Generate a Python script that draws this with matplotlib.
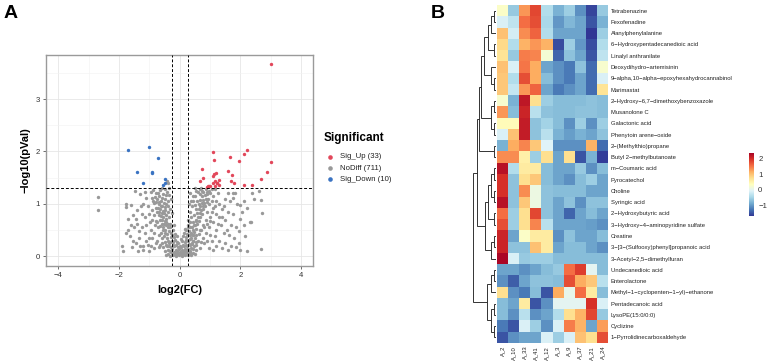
import numpy as np
import matplotlib.pyplot as plt

plt.rcParams["font.family"] = ["Liberation Sans", "DejaVu Sans"]

# ── Panel A: volcano data ────────────────────────────────────────────
up_x = [3.00, 2.22, 2.11, 1.11, 1.64, 1.12, 1.96, 3.02, 0.74, 1.58, 2.86,
        1.12, 1.19, 1.08, 1.72, 0.76, 2.67, 1.29, 0.67, 1.15, 1.69, 1.79,
        1.08, 1.22, 2.11, 2.37, 1.28, 0.96, 0.89, 1.17, 1.00, 1.24, 0.93]
up_y = [3.66, 2.03, 1.95, 1.99, 1.90, 1.84, 1.81, 1.80, 1.66, 1.63, 1.60,
        1.57, 1.58, 1.54, 1.56, 1.50, 1.48, 1.46, 1.44, 1.43, 1.43, 1.40,
        1.40, 1.40, 1.36, 1.36, 1.36, 1.35, 1.33, 1.35, 1.34, 1.39, 1.34]

down_x = [-1.71, -1.03, -0.73, -1.41, -0.93, -0.90, -1.22, -0.50, -0.48, -0.57]
down_y = [2.03, 2.09, 1.88, 1.61, 1.59, 1.60, 1.40, 1.47, 1.39, 1.36]

nodiff_core = [
    (-0.45, 0.02), (-0.38, 0.05), (-0.32, 0.01), (-0.27, 0.06), (-0.22, 0.02),
    (-0.17, 0.05), (-0.12, 0.01), (-0.07, 0.04), (-0.02, 0.02), (0.03, 0.05),
    (0.08, 0.01), (0.13, 0.04), (0.18, 0.02), (0.23, 0.06), (0.28, 0.03),
    (0.33, 0.05), (0.38, 0.02), (0.43, 0.07), (0.50, 0.04),
    (-0.40, 0.12), (-0.33, 0.10), (-0.26, 0.14), (-0.20, 0.09), (-0.14, 0.12),
    (-0.08, 0.10), (-0.03, 0.14), (0.02, 0.09), (0.07, 0.12), (0.12, 0.10),
    (0.17, 0.14), (0.22, 0.11), (0.27, 0.13), (0.32, 0.10), (0.37, 0.15),
    (0.44, 0.13), (-0.36, 0.20), (-0.30, 0.18), (-0.24, 0.22), (-0.18, 0.19),
    (-0.12, 0.21), (-0.06, 0.18), (0.00, 0.20), (0.05, 0.17), (0.10, 0.21),
    (0.15, 0.19), (0.20, 0.22), (0.25, 0.20), (0.30, 0.23), (0.35, 0.21),
    (0.40, 0.24), (-0.33, 0.28), (-0.27, 0.30), (-0.21, 0.27), (-0.15, 0.31),
    (-0.08, 0.28), (0.08, 0.30), (0.16, 0.28), (0.22, 0.31), (0.28, 0.29),
    (0.34, 0.32), (0.42, 0.30), (-0.30, 0.36), (-0.25, 0.40), (-0.18, 0.36),
    (-0.10, 0.38), (0.10, 0.38), (0.20, 0.36), (0.25, 0.42), (0.32, 0.40),
    (0.38, 0.42), (-0.28, 0.45), (-0.22, 0.50), (-0.32, 0.62), (-0.27, 0.82),
    (0.22, 0.50), (0.30, 0.48), (0.26, 0.60), (0.33, 0.65), (-0.42, 1.44),
    (-0.38, 1.40), (-0.48, 0.10), (-0.42, 0.20), (0.47, 0.20), (0.52, 0.12),
    (0.55, 0.28), (-0.05, 0.26), (0.04, 0.33), (-0.15, 0.42), (0.14, 0.44),
    (0.18, 0.52), (-0.20, 0.60), (0.28, 0.55), (0.06, 0.07), (-0.10, 0.07),
    (0.15, 0.08), (0.35, 0.08), (-0.30, 0.09), (-0.37, 0.26), (0.45, 0.40),
]
nodiff_left = [
    (-0.42, 0.42), (-0.48, 0.50), (-0.36, 0.48), (-0.55, 0.55), (-0.45, 0.60),
    (-0.60, 0.62), (-0.50, 0.68), (-0.38, 0.62), (-0.65, 0.70), (-0.55, 0.75),
    (-0.70, 0.78), (-0.45, 0.78), (-0.60, 0.82), (-0.75, 0.85), (-0.50, 0.88),
    (-0.65, 0.90), (-0.80, 0.92), (-0.58, 0.96), (-0.70, 1.00), (-0.45, 1.00),
    (-0.85, 1.02), (-0.62, 1.06), (-0.75, 1.10), (-0.50, 1.10), (-0.90, 1.12),
    (-0.68, 1.15), (-0.55, 1.18), (-0.80, 1.20), (-0.42, 1.22), (-0.95, 1.22),
    (-0.65, 1.26), (-0.50, 1.28), (-0.35, 1.30), (-0.72, 0.55), (-0.82, 0.60),
    (-0.90, 0.70), (-0.35, 0.75), (-0.32, 0.90), (-0.40, 0.95), (-0.30, 1.10),
    (-0.33, 0.55), (-0.62, 0.45), (-0.52, 0.38), (-0.70, 0.40), (-0.85, 0.45),
    (-0.95, 0.50), (-1.00, 0.80), (-1.05, 0.95), (-0.98, 0.65), (-0.78, 0.68),
    (-0.40, 0.55), (-0.47, 0.66), (-0.53, 0.62), (-0.58, 0.70), (-0.44, 0.72),
    (-0.52, 0.82), (-0.62, 0.76), (-0.67, 0.85), (-0.57, 0.86), (-0.48, 0.94),
    (-0.73, 0.93), (-0.63, 0.96), (-0.53, 1.02), (-0.78, 1.04), (-0.68, 1.04),
    (-0.58, 1.12), (-0.83, 1.14), (-0.72, 1.20), (-0.60, 1.30), (-0.88, 1.27),
    (-0.46, 1.16), (-0.38, 1.06), (-0.36, 1.16), (-0.40, 0.85), (-0.43, 0.34),
    (-0.50, 0.45), (-0.57, 0.50), (-0.66, 0.58), (-0.75, 0.65), (-0.85, 0.78),
    (-0.92, 0.88), (-0.60, 0.35), (-0.38, 0.30), (-0.48, 0.28), (-0.58, 0.26),
    (-0.70, 0.18), (-0.80, 0.25), (-0.90, 0.35), (-0.88, 1.05),
    (-1.86, 0.11), (-1.70, 0.50), (-1.78, 0.45), (-1.65, 0.38), (-1.55, 0.30),
    (-1.45, 0.25), (-1.30, 0.20), (-1.20, 0.12), (-1.10, 0.30), (-1.60, 0.60),
    (-1.50, 0.55), (-1.40, 0.62), (-1.35, 0.48), (-1.25, 0.55), (-1.15, 0.45),
    (-1.05, 0.22), (-1.77, 1.00), (-1.78, 0.94), (-1.62, 0.98), (-1.49, 1.25),
    (-1.14, 1.23), (-1.30, 1.18), (-1.20, 1.00), (-1.10, 1.12), (-1.40, 0.88),
    (-1.25, 0.80), (-1.55, 0.78), (-1.70, 0.72), (-1.35, 0.35), (-1.45, 0.72),
    (-1.00, 0.35), (-1.12, 0.60), (-1.28, 0.95), (-0.95, 0.20), (-0.85, 0.15),
    (-0.75, 0.30), (-0.65, 0.22), (-0.55, 0.18), (-0.45, 0.22), (-1.90, 0.20),
    (-1.15, 0.75), (-1.20, 0.20), (-1.38, 0.10), (-1.58, 0.18), (-1.00, 0.10),
    (-2.70, 1.14), (-2.68, 0.89),
]
nodiff_right = [
    (0.30, 0.40), (0.38, 0.45), (0.45, 0.50), (0.35, 0.55), (0.50, 0.60),
    (0.42, 0.65), (0.55, 0.70), (0.60, 0.75), (0.48, 0.78), (0.65, 0.82),
    (0.70, 0.88), (0.55, 0.90), (0.75, 0.95), (0.62, 1.00), (0.80, 1.02),
    (0.68, 1.08), (0.85, 1.10), (0.72, 1.15), (0.90, 1.18), (0.78, 1.22),
    (0.95, 1.25), (0.85, 1.28), (0.60, 1.22), (0.50, 1.15), (0.45, 1.05),
    (0.40, 0.95), (0.32, 0.85), (0.28, 0.70), (0.30, 1.00), (0.35, 1.20),
    (0.65, 1.28), (1.00, 1.20), (1.10, 1.15), (1.05, 1.05), (0.95, 1.00),
    (1.15, 0.95), (0.90, 0.85), (1.20, 0.80), (1.00, 0.75), (0.85, 0.70),
    (1.10, 0.65), (0.75, 0.60), (0.95, 0.55), (0.65, 0.50), (0.85, 0.45),
    (0.55, 0.40), (0.75, 0.35), (0.45, 0.30), (1.00, 0.40), (1.20, 0.50),
    (1.30, 1.00), (1.25, 1.20), (1.15, 1.28), (0.70, 1.30), (0.50, 1.30),
    (1.30, 0.75), (1.40, 0.90), (1.35, 0.60), (0.60, 0.30), (0.40, 0.25),
    (0.80, 0.25), (1.05, 0.30),
    (0.36, 0.35), (0.42, 0.40), (0.48, 0.46), (0.52, 0.52), (0.40, 0.55),
    (0.46, 0.60), (0.58, 0.62), (0.52, 0.68), (0.62, 0.68), (0.58, 0.82),
    (0.66, 0.75), (0.72, 0.80), (0.62, 0.90), (0.68, 0.95), (0.78, 0.90),
    (0.72, 1.02), (0.82, 0.96), (0.58, 1.06), (0.76, 1.08), (0.88, 1.04),
    (0.82, 1.16), (0.92, 1.10), (0.66, 1.18), (0.74, 1.24), (0.88, 1.22),
    (1.05, 1.28), (0.55, 1.24), (0.42, 1.15), (0.38, 0.75), (0.36, 1.05),
    (0.50, 0.35), (0.62, 0.42), (0.70, 0.50), (0.80, 0.55), (0.90, 0.62),
    (0.98, 0.68), (1.05, 0.85), (1.10, 0.92), (1.20, 1.05), (0.70, 0.28),
    (0.90, 0.30), (1.15, 0.38), (0.55, 0.22), (0.65, 0.15), (0.95, 0.15),
    (1.25, 0.62), (0.50, 0.98),
    (1.58, 1.21), (1.75, 1.20), (1.82, 1.20),
    (2.37, 1.20), (2.60, 1.25), (1.50, 1.10), (1.65, 1.05), (1.90, 1.00),
    (2.00, 0.98), (1.45, 0.95), (1.60, 0.85), (1.75, 0.80), (2.00, 0.72),
    (1.50, 0.70), (1.40, 0.75), (1.70, 0.60), (1.85, 0.55), (1.55, 0.50),
    (1.45, 0.45), (1.62, 0.40), (1.80, 0.35), (1.95, 0.48), (2.10, 0.60),
    (2.30, 0.66), (2.35, 0.66), (2.20, 0.92), (2.70, 0.82), (2.68, 1.08),
    (1.30, 0.30), (1.50, 0.25), (1.70, 0.20), (1.85, 0.18), (2.00, 0.12),
    (2.22, 0.11), (2.68, 0.14), (1.95, 0.25), (2.15, 0.38), (1.40, 0.15),
    (1.20, 0.20), (1.60, 0.12), (1.10, 0.12), (2.05, 0.85), (1.75, 1.12),
    (2.45, 1.10), (2.10, 1.05),
]

fc_cut = 0.263      # log2(1.2)
p_cut = 1.301       # -log10(0.05)
legend_labels = ["Sig_Up (33)", "NoDiff (711)", "Sig_Down (10)"]

# ── Panel B: heatmap data ────────────────────────────────────────────
metabolites = [
    "Tetrabenazine", "Fexofenadine", "Alanylphenylalanine",
    "6−Hydroxypentadecanedioic acid", "Linalyl anthranilate",
    "Deoxydihydro−artemisinin", "9−alpha,10−alpha−epoxyhexahydrocannabinol",
    "Marimastat", "2−Hydroxy−6,7−dimethoxybenzoxazole", "Musanolone C",
    "Galactonic acid", "Phenytoin arene−oxide", "2−(Methylthio)propane",
    "Butyl 2−methylbutanoate", "m−Coumaric acid", "Pyrocatechol", "Choline",
    "Syringic acid", "2−Hydroxybutyric acid",
    "3−Hydroxy−4−aminopyridine sulfate", "Creatine",
    "3−[3−(Sulfooxy)phenyl]propanoic acid", "3−Acetyl−2,5−dimethylfuran",
    "Undecanedioic acid", "Enterolactone",
    "Methyl−1−cyclopenten−1−yl)−ethanone", "Pentadecanoic acid",
    "LysoPE(15:0/0:0)", "Cyclizine", "1−Pyrrolidinecarboxaldehyde",
]
samples = ["A_2", "A_10", "A_33", "A_41", "A_12", "A_3", "A_9", "A_37",
           "A_21", "A_24"]

zscores = [
    [0.30, -0.60, 1.30, 1.80, -0.40, -0.80, -0.55, -1.05, -1.55, -0.60],
    [-0.10, -0.30, 1.55, 1.75, -0.45, -1.00, -0.75, -0.90, -1.45, -0.80],
    [1.00, -0.15, 1.35, 1.60, -0.40, -0.90, -0.90, -0.90, -1.65, -0.55],
    [0.80, -0.40, 1.10, 1.30, 1.10, -1.50, -0.55, -1.00, -1.50, -0.40],
    [0.70, -0.60, 1.45, 1.40, 0.20, -1.35, -0.65, -0.90, -1.45, -0.30],
    [1.00, -0.10, 1.50, 1.15, -0.90, -1.05, -1.20, -0.65, -1.30, 0.25],
    [0.95, -0.40, 1.75, 1.15, -0.70, -1.05, -1.20, -0.90, -1.30, -0.10],
    [0.95, -0.25, 1.30, 1.60, -0.90, -1.20, -1.05, -0.90, -1.30, 0.70],
    [0.25, -0.80, 2.15, 0.75, -0.55, -0.70, -0.70, -0.70, -0.65, -0.70],
    [1.30, -0.70, 2.05, -0.35, -0.65, -0.70, -0.70, -0.65, -0.65, -0.70],
    [0.40, 0.40, 2.10, -0.65, -0.50, -0.70, -1.05, -0.55, -1.05, -0.55],
    [-0.10, 1.00, 2.10, -0.65, -0.35, -0.80, -0.95, -0.80, -0.90, -0.65],
    [-0.80, 1.15, 1.40, 0.95, -0.05, -1.05, -1.05, -1.05, 1.10, -1.30],
    [1.35, 1.35, 0.55, -0.55, 0.75, -0.90, 0.75, -1.45, -0.80, -1.60],
    [2.20, -0.40, 0.60, 0.60, -0.70, -0.90, -0.90, -0.60, -1.05, -0.70],
    [1.95, -0.65, 0.75, 0.95, -0.70, -0.90, -1.05, -0.70, -0.55, -0.90],
    [1.95, -0.65, 1.35, 0.10, -0.65, -0.70, -0.70, -0.70, -0.90, -0.90],
    [2.20, -0.65, 0.95, 0.10, -0.65, -0.90, -0.65, -1.05, -0.65, -0.65],
    [1.55, -0.55, 0.75, 1.80, -0.65, -0.90, -1.35, -0.90, -0.70, -0.90],
    [1.75, -0.55, 0.75, 1.40, -0.35, -0.90, -0.90, -0.90, -0.95, -1.05],
    [2.05, -0.90, 0.30, 0.60, 0.60, -1.05, -0.65, -0.90, -0.90, -0.70],
    [2.05, -0.65, -0.65, 1.00, 0.60, -0.90, -0.70, -0.70, -0.90, -1.05],
    [2.30, -0.10, -0.60, -0.55, -0.55, -0.70, -0.70, -0.70, -0.70, -0.70],
    [-0.90, -0.90, -1.05, -0.90, -0.70, -0.60, 1.55, 1.85, 0.00, -0.70],
    [-1.05, -1.40, -0.90, -0.65, -0.65, -0.70, 1.75, 1.15, 0.95, -0.35],
    [0.75, -1.05, -1.20, -0.70, -1.45, 1.15, 0.05, 1.55, 0.60, -0.70],
    [-0.70, -0.90, 0.60, -1.45, -1.05, 0.00, 0.00, 0.00, 1.95, -0.10],
    [-0.70, -1.05, -0.35, -1.05, -0.90, -0.40, 0.75, 1.10, 1.80, -0.60],
    [-1.20, -1.45, -0.10, -0.55, -1.05, -0.10, 1.45, 1.10, -0.90, 1.25],
    [-1.45, -1.05, -0.90, -0.90, -0.10, -0.55, -0.10, 1.00, 0.75, 1.75],
]

# row dendrogram: (merge height, left, right), leaves = row index
top_block = (15.7,
             (14.0,
              (11.7,
               (7.3, (5.0, (1.7, 0, 1), 2), (1.7, 3, 4)),
               (5.0, 5, (1.7, 6, 7))),
              (5.0, (1.7, 8, 9), (1.7, 10, 11))),
             (2.3, 12, 13))
mid_block = (10.7,
             (7.3, (5.0, (1.7, 14, 15), (1.7, 16, 17)), (1.7, 18, 19)),
             (5.0, (1.7, 20, 21), 22))
low_block = (8.3,
             (5.0, (1.7, 23, 24), 25),
             (5.0, (1.7, 26, 27), (1.7, 28, 29)))
row_tree = (21.7, (17.7, top_block, mid_block), low_block)

# ── Figure ───────────────────────────────────────────────────────────
fig = plt.figure(figsize=(7.67, 3.62), dpi=100)
W, H = 767, 362


def px_axes(x0, y0, x1, y1):
    return fig.add_axes([x0 / W, 1 - y1 / H, (x1 - x0) / W, (y1 - y0) / H])


# — A) Volcano —
ax = px_axes(46.3, 55, 313.3, 265.7)
gray_pts = np.array(nodiff_core + nodiff_left + nodiff_right)
c_up, c_no, c_down = "#E2475A", "#999999", "#3A73C2"
ax.scatter(gray_pts[:, 0], gray_pts[:, 1], s=6, color=c_no, lw=0, zorder=3)
ax.scatter(up_x, up_y, s=6, color=c_up, lw=0, zorder=4)
ax.scatter(down_x, down_y, s=6, color=c_down, lw=0, zorder=4)
for v in (-fc_cut, fc_cut):
    ax.axvline(v, color="black", ls=(0, (3, 2)), lw=0.7, zorder=5)
ax.axhline(p_cut, color="black", ls=(0, (3, 2)), lw=0.7, zorder=5)

ax.set_xlim(-4.4, 4.4)
ax.set_ylim(-0.18, 3.84)
ax.set_xticks([-4, -2, 0, 2, 4])
ax.set_yticks([0, 1, 2, 3])
ax.set_xticks([-3, -1, 1, 3], minor=True)
ax.set_yticks([0.5, 1.5, 2.5, 3.5], minor=True)
ax.grid(which="major", color="#E6E6E6", lw=0.6)
ax.grid(which="minor", color="#F2F2F2", lw=0.4)
ax.set_axisbelow(True)
ax.tick_params(which="major", length=2.5, width=0.6, color="#555555",
               labelsize=5.6, labelcolor="#333333", pad=2)
ax.tick_params(which="minor", length=0)
for sp in ax.spines.values():
    sp.set_color("#9A9A9A")
    sp.set_linewidth(1.0)
ax.set_xlabel("log2(FC)", fontsize=8, fontweight="bold", labelpad=4)
ax.set_ylabel("−log10(pVal)", fontsize=8, fontweight="bold", labelpad=4)

# legend drawn by hand in figure pixels
fig.text(324 / W, 1 - 138 / H, "Significant", fontsize=8.5,
         fontweight="bold", va="center")
for i, (c, lab) in enumerate(zip([c_up, c_no, c_down], legend_labels)):
    yy = 1 - (157 + 11.2 * i) / H
    fig.lines.append(plt.Line2D([329.5 / W], [yy], marker="o", ls="none",
                                markersize=3.3, markerfacecolor=c,
                                markeredgewidth=0,
                                transform=fig.transFigure))
    fig.text(340 / W, yy, lab, fontsize=5.6, va="center", color="#222222")

fig.text(0.004, 0.985, "A", fontsize=14, fontweight="bold", va="top")
fig.text(0.561, 0.985, "B", fontsize=14, fontweight="bold", va="top")

# — B) Heatmap —
n_rows, n_cols = len(metabolites), len(samples)
axh = px_axes(497, 5, 608, 343)
mesh = axh.pcolormesh(np.arange(n_cols + 1), np.arange(n_rows + 1),
                      np.array(zscores), cmap="RdYlBu_r",
                      vmin=-1.65, vmax=2.35)
axh.set_xlim(0, n_cols)
axh.set_ylim(n_rows, 0)
axh.set_yticks(np.arange(n_rows) + 0.5)
axh.set_yticklabels(metabolites)
axh.yaxis.tick_right()
axh.set_xticks(np.arange(n_cols) + 0.5)
axh.set_xticklabels(samples, rotation=90)
axh.tick_params(length=0, labelsize=4.2, pad=2, labelcolor="#222222")
for sp in axh.spines.values():
    sp.set_visible(False)

# dendrogram
axd = px_axes(473, 5, 496, 343)


def draw_tree(node):
    if isinstance(node, int):
        return node + 0.5, 0.0
    h, left, right = node
    yl, hl = draw_tree(left)
    yr, hr = draw_tree(right)
    axd.plot([hl, h, h, hr], [yl, yl, yr, yr], color="#333333", lw=0.7,
             solid_joinstyle="miter")
    return (yl + yr) / 2, h


draw_tree(row_tree)
axd.set_xlim(row_tree[0], 0)
axd.set_ylim(n_rows, 0)
axd.axis("off")

# colorbar
cax = px_axes(749, 152.7, 754, 216)
cb = fig.colorbar(mesh, cax=cax, ticks=[-1, 0, 1, 2])
cb.outline.set_visible(False)
cax.tick_params(length=0, labelsize=5.6, pad=3, labelcolor="#333333")

fig.savefig("out.png", dpi=100, facecolor="white")
